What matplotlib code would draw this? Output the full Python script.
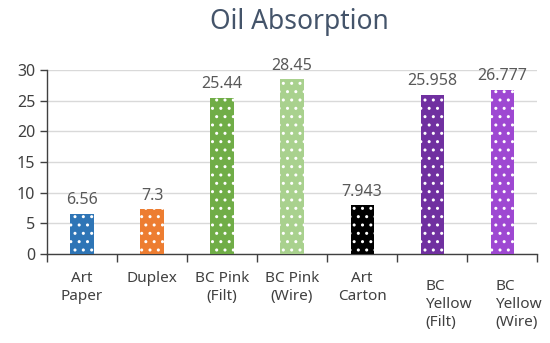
import matplotlib
matplotlib.use('Agg')
import matplotlib.pyplot as plt
import numpy as np

plt.rcParams['font.family'] = ['Noto Sans', 'DejaVu Sans']
plt.rcParams['hatch.linewidth'] = 1.0

categories = ['Art\nPaper', 'Duplex', 'BC Pink\n(Filt)', 'BC Pink\n(Wire)', 'Art\nCarton',
              'BC\nYellow\n(Filt)', 'BC\nYellow\n(Wire)']
values = [6.56, 7.3, 25.44, 28.45, 7.943, 25.958, 26.777]
value_labels = ['6.56', '7.3', '25.44', '28.45', '7.943', '25.958', '26.777']
colors = ['#2E75B6', '#ED7D31', '#70AD47', '#A9D18E', '#000000', '#7030A0', '#9E48D2']
yticks = [0, 5, 10, 15, 20, 25, 30]

fig = plt.figure(figsize=(5.5, 3.43), dpi=100)
ax = fig.add_axes([0.0855, 0.2595, 0.891, 0.5365])

x = np.arange(len(categories))
bars = ax.bar(x, values, width=0.33, color=colors, edgecolor='white', linewidth=0,
              hatch='..', zorder=3)

for xi, v, lab in zip(x, values, value_labels):
    ax.annotate(lab, (xi, v), xytext=(0, 4), textcoords='offset points',
                ha='center', va='bottom', fontsize=11.5, color='#595959')

ax.set_xlim(-0.5, len(categories) - 0.5)
ax.set_ylim(0, 30)
ax.set_yticks(yticks)
ax.tick_params(axis='y', labelsize=11.5, labelcolor='#404040', color='#404040',
               length=5, width=1)
ax.yaxis.grid(True, color='#D9D9D9', linewidth=1, zorder=0)
ax.set_axisbelow(True)

# ticks between categories
ax.set_xticks(np.arange(len(categories) + 1) - 0.5)
ax.set_xticklabels([])
ax.tick_params(axis='x', length=6, width=1, color='#404040')

for s in ['top', 'right']:
    ax.spines[s].set_visible(False)
for s in ['left', 'bottom']:
    ax.spines[s].set_color('#404040')
    ax.spines[s].set_linewidth(1)

# category labels
trans = ax.get_xaxis_transform()
for xi, c in zip(x, categories):
    if c.count('\n') == 2:
        ax.text(xi - 0.1, -0.135, c, transform=trans, ha='left', va='top',
                fontsize=11, color='#404040', multialignment='left', linespacing=1.3)
    else:
        ax.text(xi, -0.09, c, transform=trans, ha='center', va='top',
                fontsize=11, color='#404040', multialignment='center', linespacing=1.3)

fig.text(0.545, 0.935, 'Oil Absorption', ha='center', va='center',
         fontsize=19, color='#44546A')

fig.savefig('out.png', dpi=100)
